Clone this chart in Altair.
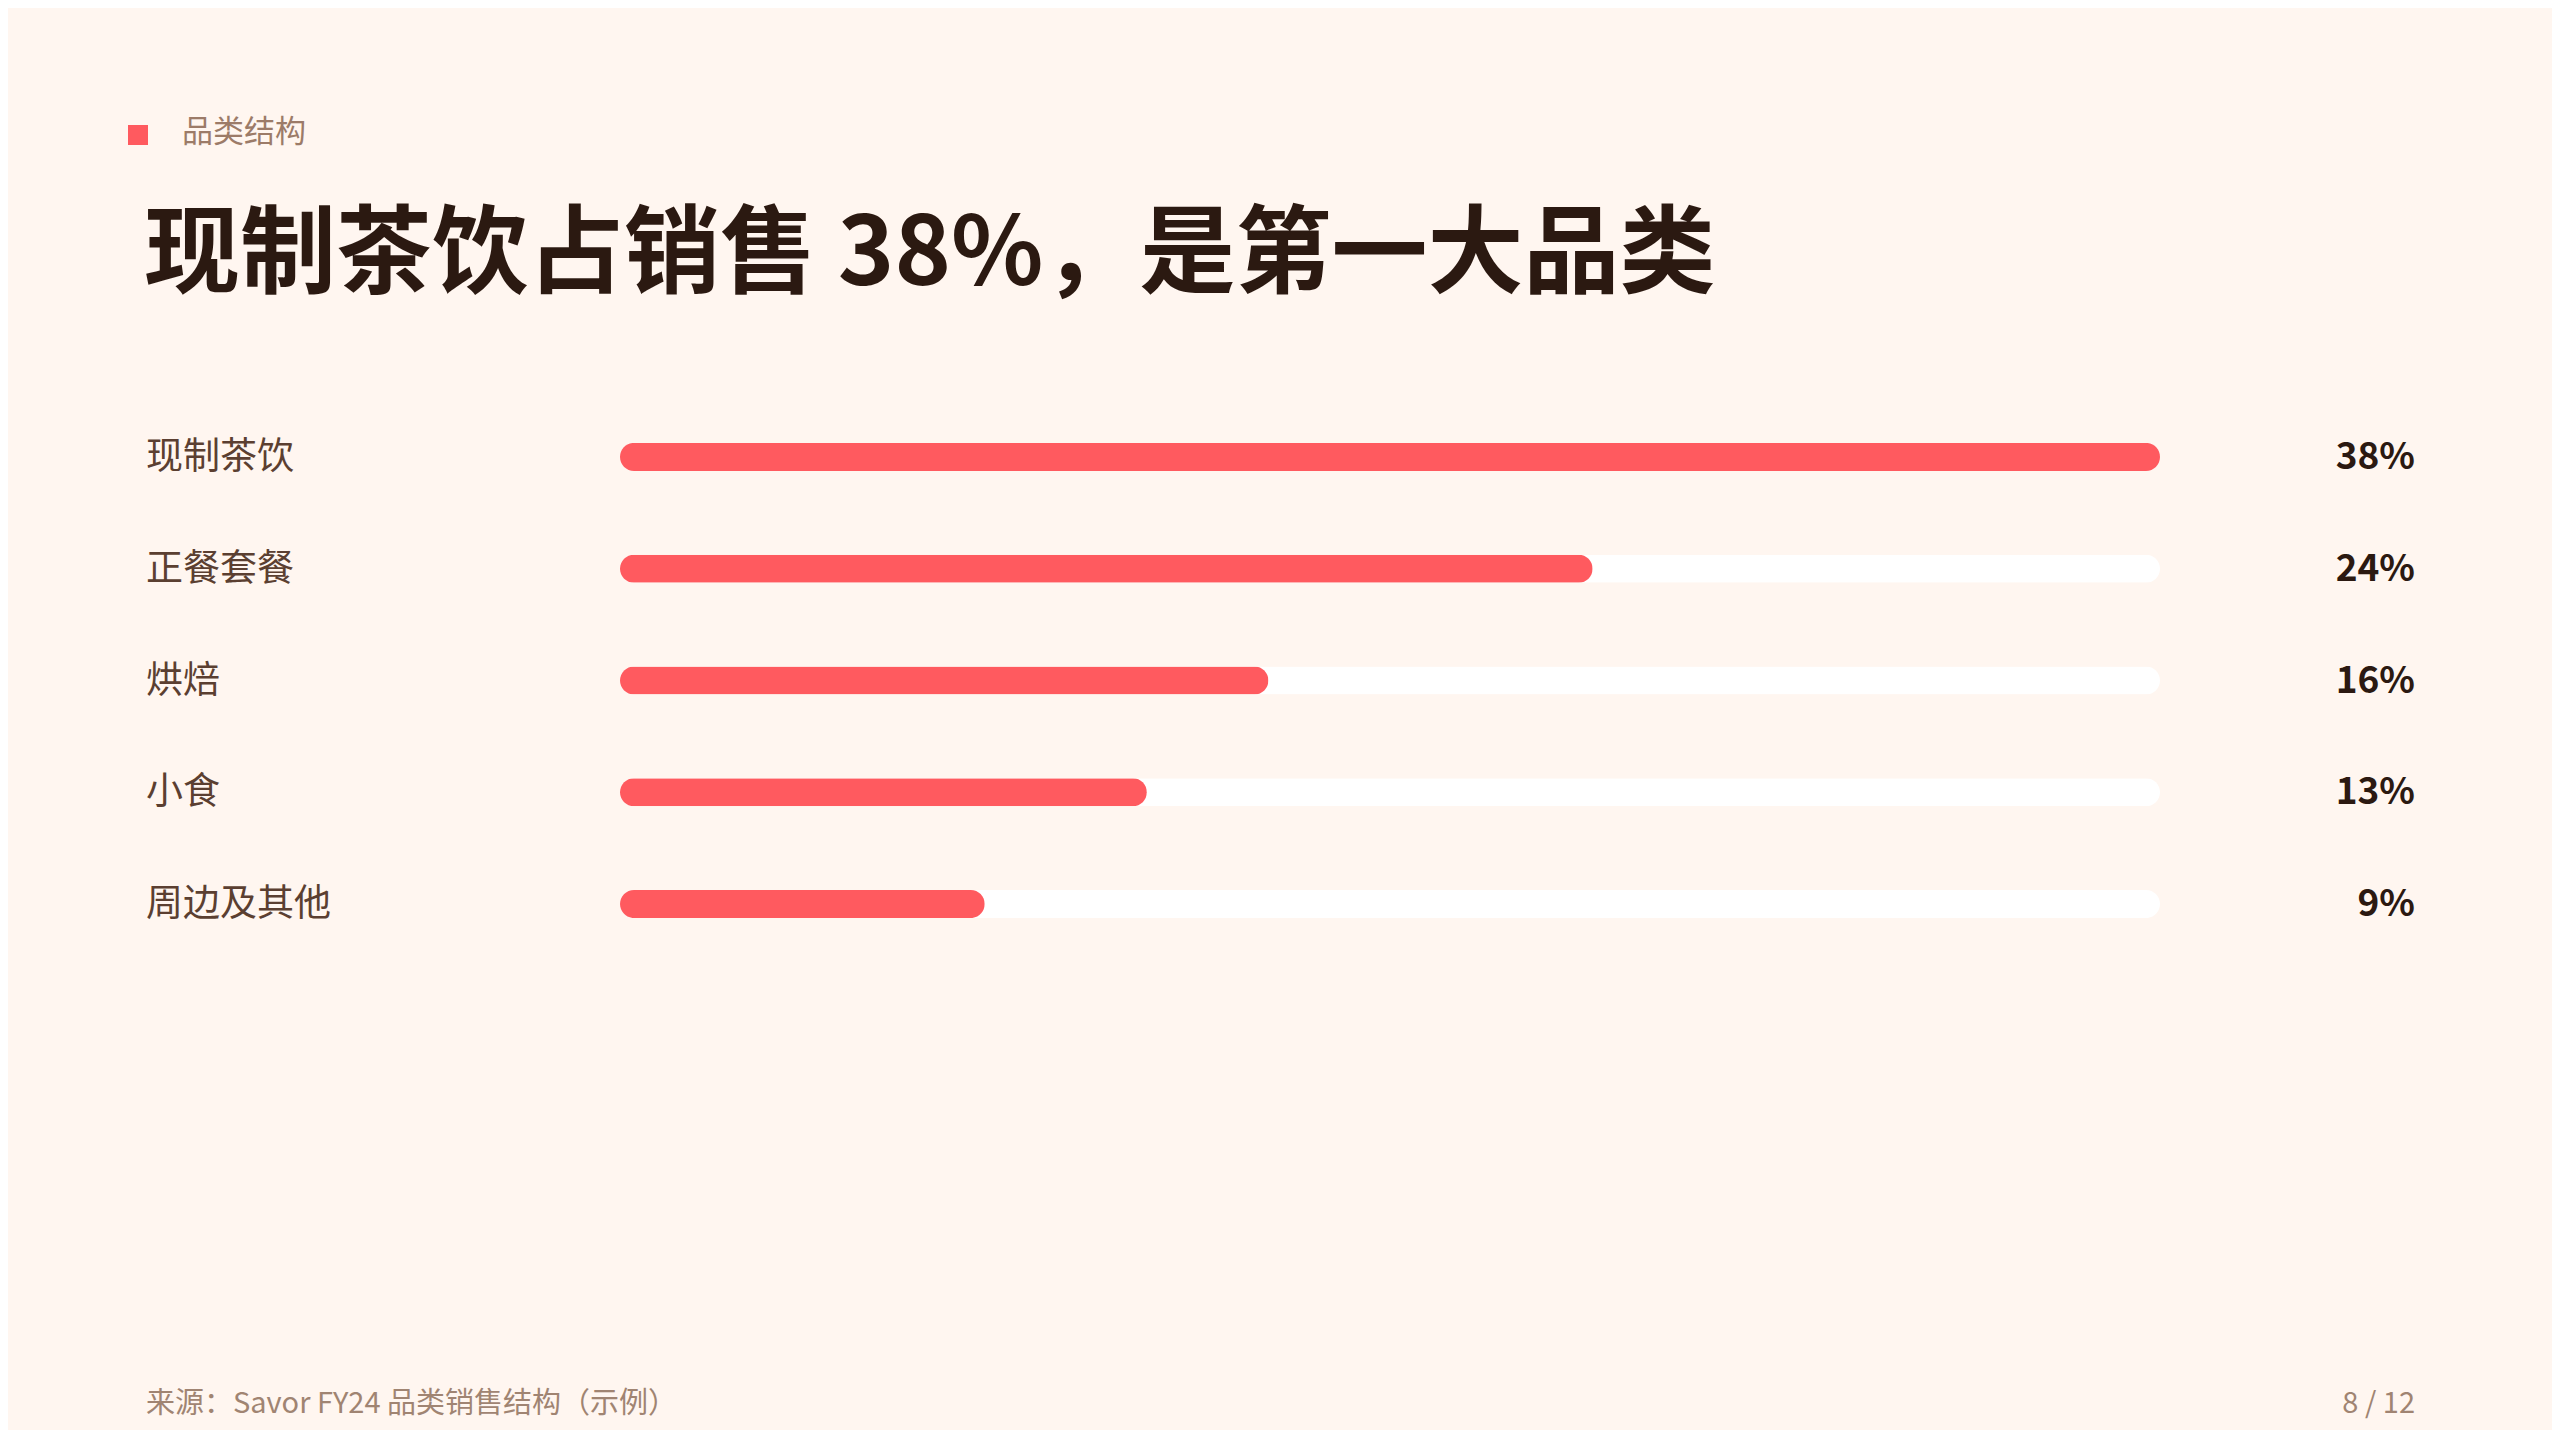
import altair as alt
import pandas as pd

categories = ["现制茶饮", "正餐套餐", "烘焙", "小食", "周边及其他"]
values = [38, 24, 16, 13, 9]
value_labels = ["38%", "24%", "16%", "13%", "9%"]

kicker = "品类结构"
title = "现制茶饮占销售 38%，是第一大品类"
source = "来源：Savor FY24 品类销售结构（示例）"
page = "8 / 12"

BG = "#FFF6F0"
RED = "#FF5A5F"
FONT = "Noto Sans CJK SC"

df = pd.DataFrame({
    "cat": categories,
    "val": values,
    "lab": value_labels,
    "track": [max(values)] * len(values),
})

W, H = 1540, 559
xs = alt.Scale(domain=[0, max(values)], nice=False, zero=True)
ys = alt.Scale(domain=categories, paddingInner=0, paddingOuter=0)

base = alt.Chart(df)

track = base.mark_bar(color="#FFFFFF", cornerRadius=14, height=28).encode(
    x=alt.X("track:Q", scale=xs, axis=None),
    y=alt.Y("cat:N", scale=ys, axis=None, sort=categories),
)
bars = base.mark_bar(color=RED, cornerRadius=14, height=28).encode(
    x=alt.X("val:Q", scale=xs, axis=None),
    y=alt.Y("cat:N", scale=ys, axis=None, sort=categories),
)
cat_text = base.mark_text(align="left", baseline="middle", font=FONT, fontSize=37,
                          color="#5B3F31", dy=1).encode(
    x=alt.value(-474),
    y=alt.Y("cat:N", scale=ys, axis=None, sort=categories),
    text="cat:N",
)
val_text = base.mark_text(align="right", baseline="middle", font=FONT, fontSize=37,
                          fontWeight="bold", color="#2B1911", dy=1).encode(
    x=alt.value(1795),
    y=alt.Y("cat:N", scale=ys, axis=None, sort=categories),
    text="lab:N",
)

one = pd.DataFrame({"k": [kicker], "t": [title], "s": [source], "p": [page]})
ob = alt.Chart(one)
square = ob.mark_rect(color=RED).encode(
    x=alt.value(-492), x2=alt.value(-472), y=alt.value(-276), y2=alt.value(-256)
)
kick = ob.mark_text(align="left", baseline="middle", font=FONT, fontSize=31,
                    color="#9C7B68").encode(x=alt.value(-438), y=alt.value(-268), text="k:N")
ttl = ob.mark_text(align="left", baseline="middle", font=FONT, fontSize=96,
                   fontWeight="bold", color="#2B1911").encode(
    x=alt.value(-476), y=alt.value(-145), text="t:N")
src = ob.mark_text(align="left", baseline="middle", font=FONT, fontSize=29,
                   color="#A08472").encode(x=alt.value(-474), y=alt.value(1003), text="s:N")
pg = ob.mark_text(align="right", baseline="middle", font=FONT, fontSize=29,
                  color="#A08472").encode(x=alt.value(1795), y=alt.value(1003), text="p:N")

chart = alt.layer(track, bars, cat_text, val_text, square, kick, ttl, src, pg).properties(
    width=W, height=H,
    background=BG,
    padding={"left": 612, "top": 393, "right": 392, "bottom": 470},
    autosize=alt.AutoSizeParams(type="none"),
).configure_view(stroke=None)

chart.save("out.html", embed_options={"renderer": "svg", "actions": False})
